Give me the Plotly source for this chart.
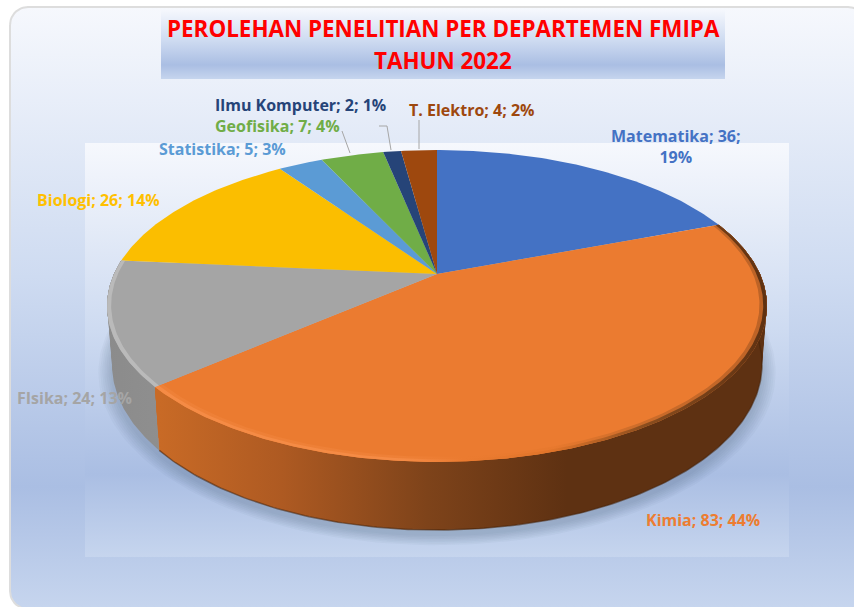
import numpy as np
import plotly.graph_objects as go

# ---- data ----
categories = ["Matematika", "Kimia", "FIsika", "Biologi", "Statistika", "Geofisika", "Ilmu Komputer", "T. Elektro"]
values = [36, 83, 24, 26, 5, 7, 2, 4]
colors = ["#4472C4", "#EB7B30", "#A5A5A5", "#FBBE00", "#5B9BD5", "#70AD47", "#264478", "#9E480E"]
title_lines = ["PEROLEHAN PENELITIAN PER DEPARTEMEN FMIPA", "TAHUN 2022"]

# ---- layout of the pseudo 3D pie (pixel space of the axes) ----
W, H = 854, 607
CX, CY = 437, 274
A, B, K = 323.0, 149.4, 0.205
DEPTH, BOTTOM_SCALE = 56.4, 0.985
GRAD = [[0, "#F6F8FD"], [0.45, "#CEDBF1"], [0.8, "#AABEE3"], [1, "#C6D5EE"]]


def project(theta, r=1.0, depth=0.0, scale=1.0, shift=0.0):
    X, Y = r * np.sin(theta), r * np.cos(theta)
    d = 1 + K * Y
    return CX + scale * A * X / d, CY - scale * B * Y / d + depth / d + shift


def arc(a0, a1, n=None, **kw):
    n = n or max(3, int(abs(a1 - a0) * 90))
    return project(np.linspace(a0, a1, n), **kw)


fig = go.Figure()


def poly(x, y, color=None, gradient=None, line=None):
    kw = dict(x=list(x), y=list(y), mode="lines", fill="toself", hoverinfo="skip", showlegend=False,
              line=dict(width=0) if line is None else line)
    if gradient is not None:
        kw["fillgradient"] = gradient
    else:
        kw["fillcolor"] = color
    fig.add_trace(go.Scatter(**kw))


def vgrad(y0, y1):
    return dict(type="vertical", colorscale=GRAD, start=y0, stop=y1)


# rounded chart background
L, T, R, Bt, rad = 10, 7, 866, 609, 18
t = np.linspace(0, np.pi / 2, 12)
bx = np.r_[L + rad - rad * np.cos(t), R - rad + rad * np.sin(t), R - rad + rad * np.cos(t), L + rad - rad * np.sin(t)]
by = np.r_[T + rad - rad * np.sin(t), T + rad - rad * np.cos(t), Bt - rad + rad * np.sin(t), Bt - rad + rad * np.cos(t)]
poly(np.r_[bx, bx[0]], np.r_[by, by[0]], gradient=vgrad(T, 607), line=dict(width=2, color="#DDDDDD"))
# plot area
poly([85, 789, 789, 85, 85], [143, 143, 557, 557, 143], gradient=vgrad(143, 557))
# title box
poly([161, 725, 725, 161, 161], [9, 9, 79, 79, 9], gradient=vgrad(9, 79))

# soft shadow under the pie
full = np.linspace(0, 2 * np.pi, 240)
for r in [1.04, 1.034, 1.028, 1.022, 1.016, 1.01, 1.004]:
    sx, sy = project(full, r=r, depth=DEPTH, scale=BOTTOM_SCALE, shift=5)
    poly(sx, sy, color="rgba(70,90,125,0.045)")

# slice angles (clockwise from the top)
total = sum(values)
edges = np.r_[0, np.cumsum(values)] / total * 2 * np.pi


def wall(a0, a1, gradient):
    # nested levels, all starting at the top rim, so the outline follows the side's silhouette
    tx, ty = arc(a0, a1)
    for f in [1.0, 0.8, 0.6, 0.4, 0.2]:
        bx_, by_ = arc(a1, a0, depth=DEPTH * f, scale=1 - (1 - BOTTOM_SCALE) * f)
        poly(np.r_[tx, bx_, tx[0]], np.r_[ty, by_, ty[0]], gradient=gradient)


# side walls
wall(edges[2], edges[3],
     dict(type="horizontal", colorscale=[[0, "#8B8B8B"], [1, "#8F8F8F"]], start=105, stop=165))
wall(edges[1], edges[2],
     dict(type="horizontal",
          colorscale=[[0, "#5E3112"], [0.33, "#5E3112"], [0.56, "#7E431A"], [0.8, "#AE5A22"], [1, "#C86A26"]],
          start=767, stop=160))
# dark lower edge of the wall
ex, ey = arc(edges[1] + 0.1, edges[2], depth=DEPTH, scale=BOTTOM_SCALE)
fig.add_trace(go.Scatter(x=ex, y=ey, mode="lines", hoverinfo="skip", showlegend=False,
                         line=dict(width=1.5, color="rgba(70,35,10,0.55)")))

# top faces
for i, c in enumerate(colors):
    x, y = arc(edges[i], edges[i + 1])
    poly(np.r_[CX, x, CX], np.r_[CY, y, CY], color=c)

# bevel along the rim: a softer inner band and a firm outer one
a0, a1 = edges[1], edges[2]
for r_in, al in [(0.978, 0.33), (0.989, 1)]:
    ox, oy = arc(a0, a1)
    ix, iy = arc(a1, a0, r=r_in)
    poly(np.r_[ox, ix, ox[0]], np.r_[oy, iy, oy[0]],
         gradient=dict(type="horizontal",
                       colorscale=[[0, f"rgba(94,49,18,{al})"], [0.2, f"rgba(138,77,30,{al})"],
                                   [0.35, f"rgba(224,116,41,{al})"], [0.5, f"rgba(235,123,48,{al})"],
                                   [0.6, f"rgba(245,139,69,{al})"], [1, f"rgba(245,139,69,{al})"]],
                       start=767, stop=160))
a0, a1 = edges[2], edges[3]
ox, oy = arc(a0, a1)
ix, iy = arc(a1, a0, r=0.988)
poly(np.r_[ox, ix, ox[0]], np.r_[oy, iy, oy[0]], color="#BABABA")

# leader lines
for lx, ly in [([342, 350], [131, 153]), ([379, 387, 391], [126, 126, 150]), ([419, 419], [120, 149])]:
    fig.add_trace(go.Scatter(x=lx, y=ly, mode="lines", hoverinfo="skip", showlegend=False,
                             line=dict(width=1, color="#A6A6A6")))

# data labels
label_pos = [(676, 146), (703, 520), (74, 398), (98, 200), (222, 149), (277, 126), (300, 105), (471, 110)]
label_colors = ["#4472C4", "#ED7D31", "#A5A5A5", "#FFC000", "#5B9BD5", "#70AD47", "#264478", "#9E480E"]
FONT = "Open Sans"
for i, name in enumerate(categories):
    pct = round(values[i] / total * 100)
    text = f"{name}; {values[i]}; {pct}%"
    if name == "Matematika":
        text = f"{name}; {values[i]};<br>{pct}%"
    fig.add_annotation(x=label_pos[i][0], y=label_pos[i][1], text=f"<b>{text}</b>", showarrow=False,
                       xanchor="center", yanchor="middle", font=dict(family=FONT, size=16, color=label_colors[i]))

# title
for line, ypos in zip(title_lines, [28, 60]):
    fig.add_annotation(x=443, y=ypos, text=f"<b>{line}</b>", showarrow=False, xanchor="center", yanchor="middle",
                       font=dict(family=FONT, size=22.4, color="#FF0000"))

fig.update_layout(
    width=W, height=H, margin=dict(l=0, r=0, t=0, b=0), paper_bgcolor="white", plot_bgcolor="white",
    showlegend=False,
    xaxis=dict(range=[0, W], visible=False, fixedrange=True),
    yaxis=dict(range=[H, 0], visible=False, fixedrange=True),
)
fig.write_html("out.html", config={"displayModeBar": False},
               post_script="document.body.style.margin='0';document.body.style.overflow='hidden';")
